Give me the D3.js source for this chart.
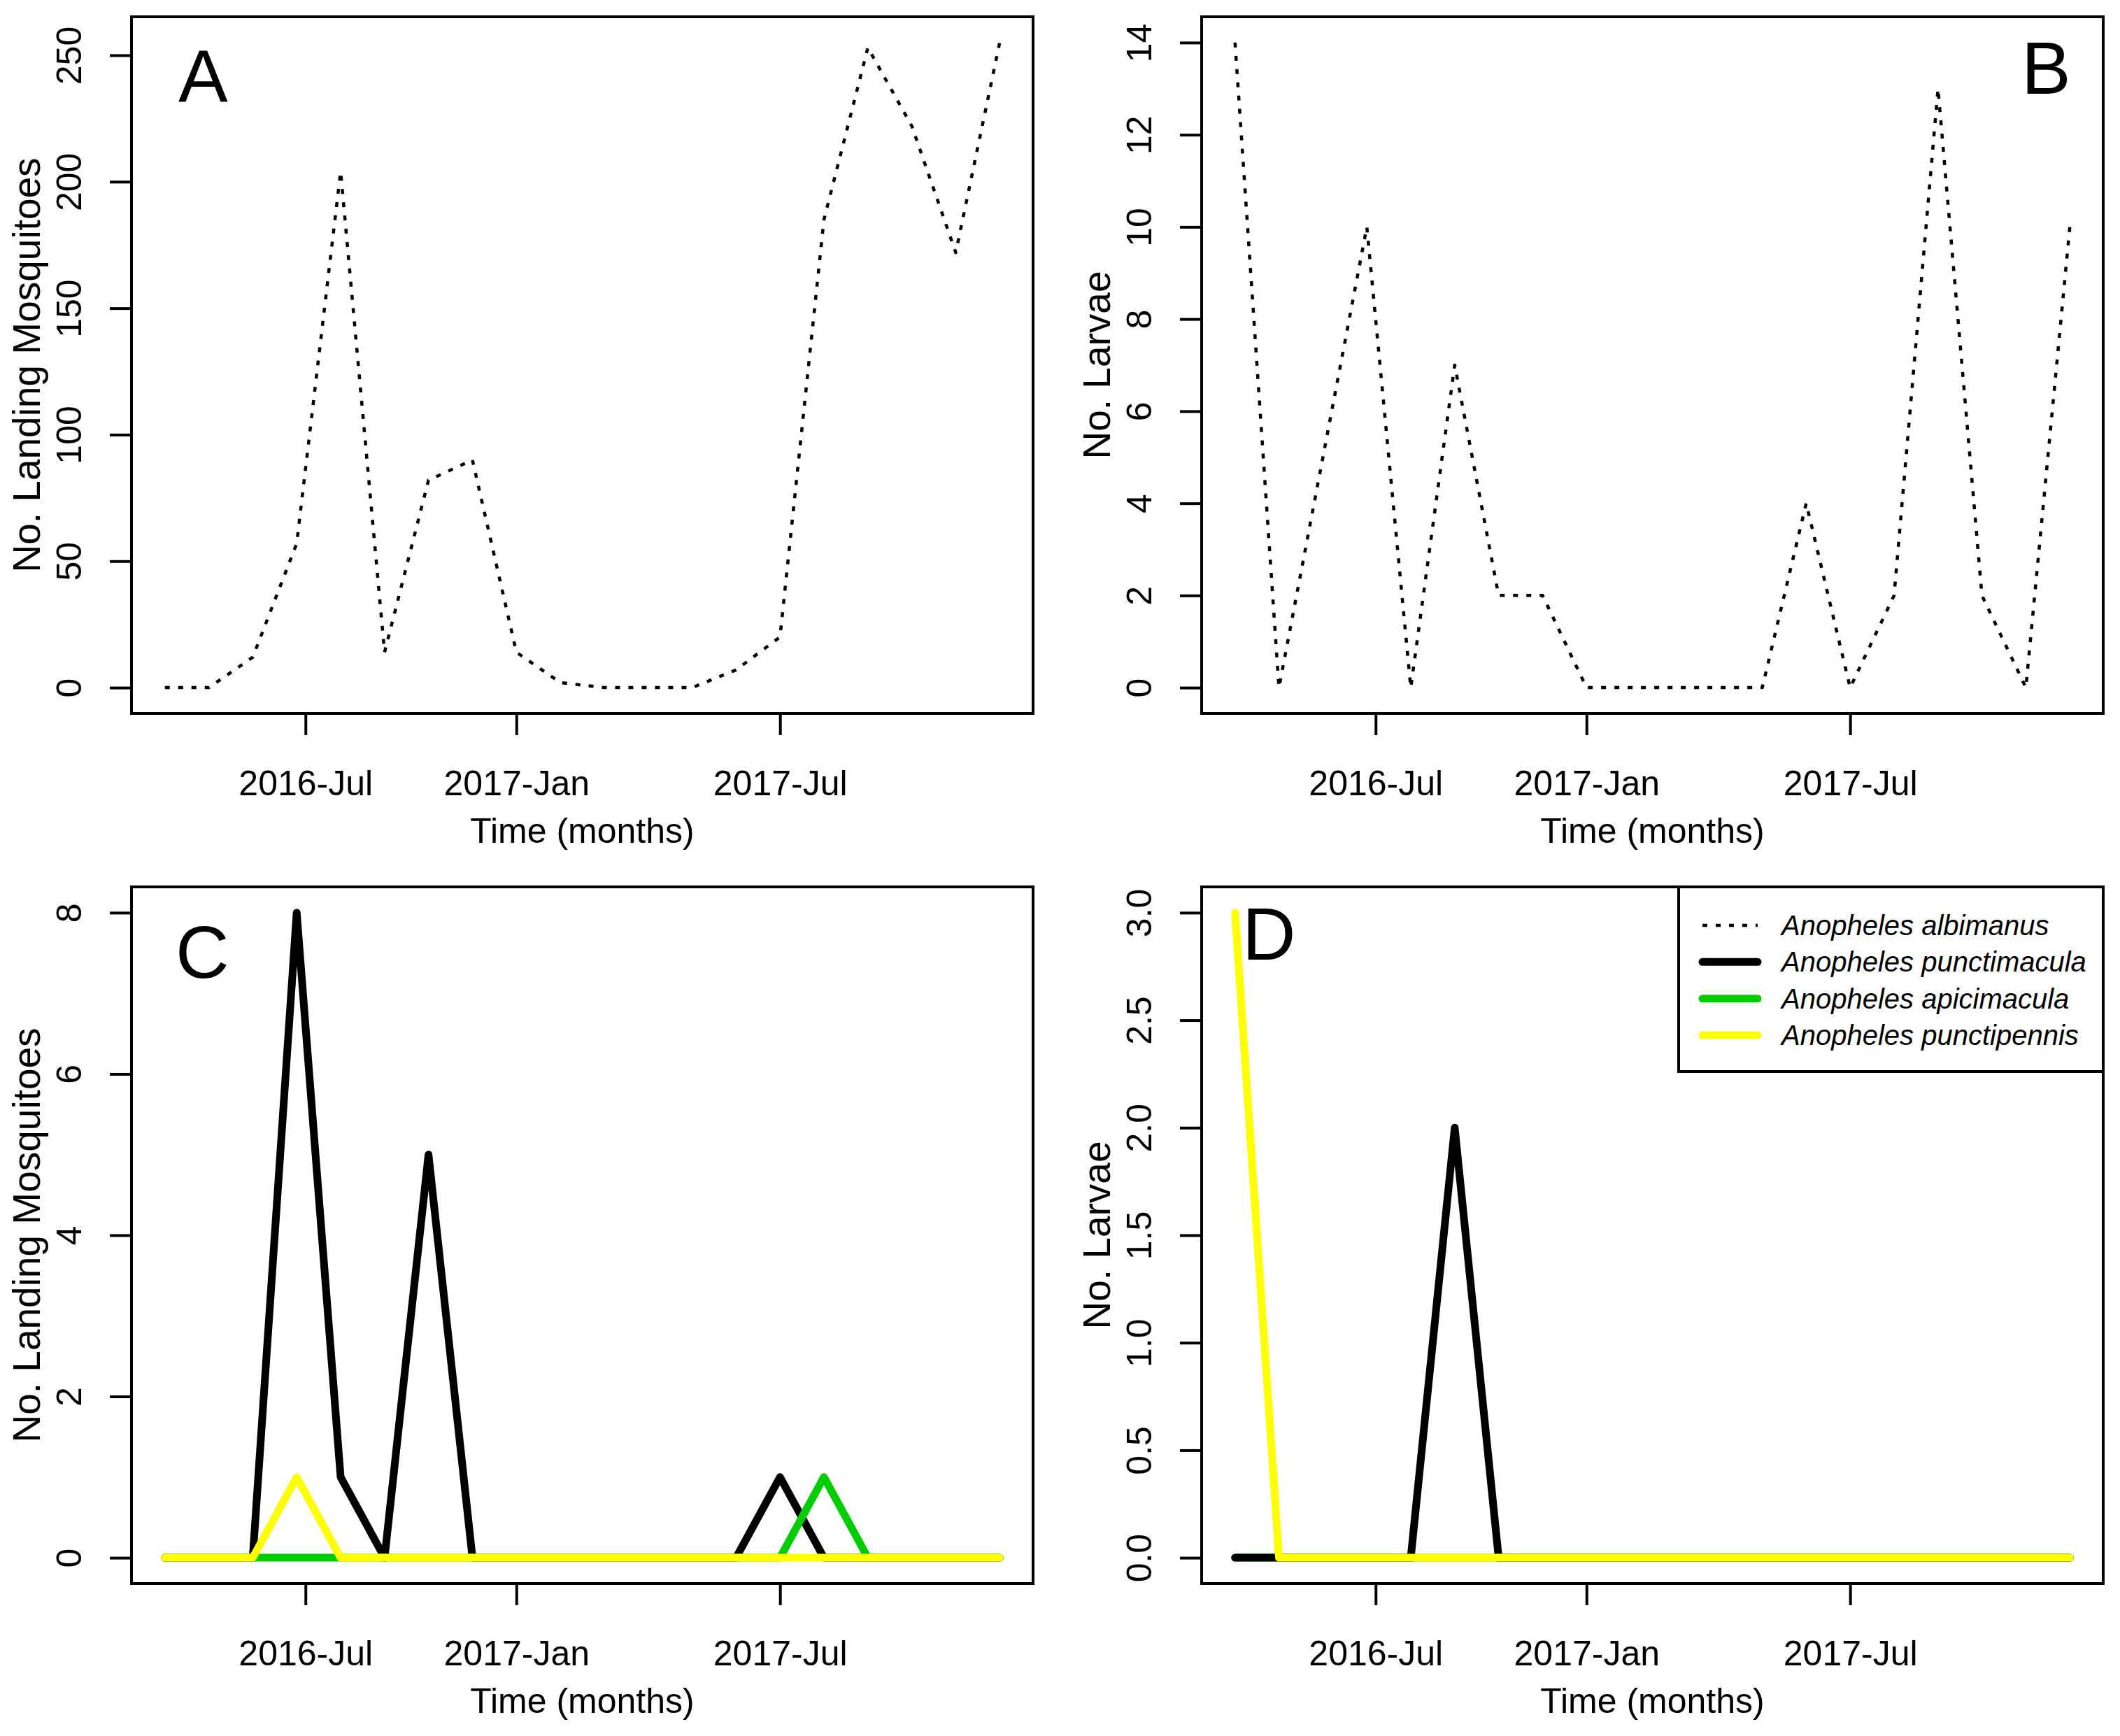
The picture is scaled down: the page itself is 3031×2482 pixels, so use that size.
<!DOCTYPE html>
<html>
<head>
<meta charset="utf-8">
<script src="https://cdn.jsdelivr.net/npm/d3@7"></script>
<style>
  body { margin: 0; background: #fff; }
  text { font-family: "Liberation Sans", Arial, sans-serif; fill: #000; }
</style>
</head>
<body>
<svg id="fig"></svg>
<script>
// sample number (monthly collections)
var sampleNo = [1,2,3,4,5,6,7,8,9,10,11,12,13,14,15,16,17,18,19,20];
var monthTicks = [4.2, 9, 15];
var monthLabels = ["2016-Jul", "2017-Jan", "2017-Jul"];

// A: landing An. albimanus, B: larvae An. albimanus
var albimanusLanding = [0,0,12,57,204,14,82,90,14,2,0,0,0,7,20,185,253,222,172,255];
var albimanusLarvae  = [14,0,5,10,0,7,2,2,0,0,0,0,0,4,0,2,13,2,0,10];

// C: landing, other species
var punctimaculaLanding = [0,0,0,8,1,0,5,0,0,0,0,0,0,0,1,0,0,0,0,0];
var apicimaculaLanding  = [0,0,0,0,0,0,0,0,0,0,0,0,0,0,0,1,0,0,0,0];
var punctipennisLanding = [0,0,0,1,0,0,0,0,0,0,0,0,0,0,0,0,0,0,0,0];

// D: larvae, other species
var punctimaculaLarvae = [0,0,0,0,0,2,0,0,0,0,0,0,0,0,0,0,0,0,0,0];
var apicimaculaLarvae  = [0,0,0,0,0,0,0,0,0,0,0,0,0,0,0,0,0,0,0,0];
var punctipennisLarvae = [3,0,0,0,0,0,0,0,0,0,0,0,0,0,0,0,0,0,0,0];

var speciesNames = ["Anopheles albimanus", "Anopheles punctimacula", "Anopheles apicimacula", "Anopheles punctipennis"];

var yTicksA = [0, 50, 100, 150, 200, 250];
var yTicksB = [0, 2, 4, 6, 8, 10, 12, 14];
var yTicksC = [0, 2, 4, 6, 8];
var yTicksD = [0, 0.5, 1, 1.5, 2, 2.5, 3];

var W = 3031, H = 2482;
var svg = d3.select("#fig").attr("width", W).attr("height", H);
svg.append("rect").attr("width", W).attr("height", H).attr("fill", "#fff");

// line styles per species
var styles = {
  albimanus:    {color: "#000000", width: 4.5, dash: "7 12", cap: "butt"},
  punctimacula: {color: "#000000", width: 11, dash: null, cap: "round"},
  apicimacula:  {color: "#00CD00", width: 11, dash: null, cap: "round"},
  punctipennis: {color: "#FFFF00", width: 11, dash: null, cap: "round"}
};

// R style axis range: 4% padding on each side
function rRange(lo, hi){
  var r = hi - lo;
  return [lo - 0.04 * r, hi + 0.04 * r];
}

function drawPanel(p){
  var g = svg.append("g");
  var w = p.right - p.left, h = p.bottom - p.top;

  var x = d3.scaleLinear()
      .domain(rRange(d3.min(sampleNo), d3.max(sampleNo)))
      .range([p.left, p.right]);

  var allY = [];
  p.series.forEach(function(s){ allY = allY.concat(s.values); });
  var y = d3.scaleLinear()
      .domain(rRange(0, d3.max(allY)))
      .range([p.bottom, p.top]);

  var line = d3.line()
      .x(function(d, i){ return x(sampleNo[i]); })
      .y(function(d){ return y(d); });

  // series
  p.series.forEach(function(s){
    var st = styles[s.key];
    g.append("path")
        .datum(s.values)
        .attr("d", line)
        .attr("fill", "none")
        .attr("stroke", st.color)
        .attr("stroke-width", st.width)
        .attr("stroke-linecap", st.cap)
        .attr("stroke-linejoin", "round")
        .attr("stroke-dasharray", st.dash);
  });

  // Y axis
  var yAx = g.append("g")
      .attr("transform", "translate(" + p.left + ",0)")
      .call(d3.axisLeft(y).tickValues(p.yTicks).tickFormat(p.yFmt).tickSize(31).tickSizeOuter(0));
  yAx.select(".domain").remove();
  yAx.selectAll(".tick line").attr("stroke", "#000").attr("stroke-width", 4);
  yAx.selectAll(".tick text")
      .attr("transform", "rotate(-90)")
      .attr("x", 0).attr("y", -72).attr("dy", null)
      .attr("text-anchor", "middle")
      .style("font-size", "50px")
      .style("font-family", "Liberation Sans, Arial, sans-serif");

  // X axis
  var xAx = g.append("g")
      .attr("transform", "translate(0," + p.bottom + ")")
      .call(d3.axisBottom(x).tickValues(monthTicks)
            .tickFormat(function(d, i){ return monthLabels[i]; })
            .tickSize(31).tickSizeOuter(0));
  xAx.select(".domain").remove();
  xAx.selectAll(".tick line").attr("stroke", "#000").attr("stroke-width", 4);
  xAx.selectAll(".tick text")
      .attr("y", 117).attr("dy", null)
      .style("font-size", "50px")
      .style("font-family", "Liberation Sans, Arial, sans-serif");

  // box
  g.append("rect")
      .attr("x", p.left).attr("y", p.top)
      .attr("width", w).attr("height", h)
      .attr("fill", "none").attr("stroke", "#000").attr("stroke-width", 4);

  // axis titles
  g.append("text")
      .attr("x", (p.left + p.right) / 2).attr("y", p.bottom + 185)
      .attr("text-anchor", "middle")
      .style("font-size", "50px")
      .text("Time (months)");

  g.append("text")
      .attr("transform", "translate(" + (p.left - 131) + "," + ((p.top + p.bottom) / 2) + ") rotate(-90)")
      .attr("text-anchor", "middle")
      .style("font-size", "55px")
      .text(p.yTitle);

  // panel letter
  g.append("text")
      .attr("x", p.letterX).attr("y", p.letterY)
      .style("font-size", "106px")
      .text(p.letter);

  return {x: x, y: y, g: g};
}

var intFmt = d3.format("d");
var decFmt = d3.format(".1f");

drawPanel({
  left: 188, right: 1477, top: 24, bottom: 1020,
  series: [{key: "albimanus", values: albimanusLanding}],
  yTicks: yTicksA, yFmt: intFmt, yTitle: "No. Landing Mosquitoes",
  letter: "A", letterX: 255, letterY: 145
});

drawPanel({
  left: 1718, right: 3007, top: 24, bottom: 1020,
  series: [{key: "albimanus", values: albimanusLarvae}],
  yTicks: yTicksB, yFmt: intFmt, yTitle: "No. Larvae",
  letter: "B", letterX: 2890, letterY: 134
});

drawPanel({
  left: 188, right: 1477, top: 1268, bottom: 2264,
  series: [
    {key: "punctimacula", values: punctimaculaLanding},
    {key: "apicimacula", values: apicimaculaLanding},
    {key: "punctipennis", values: punctipennisLanding}
  ],
  yTicks: yTicksC, yFmt: intFmt, yTitle: "No. Landing Mosquitoes",
  letter: "C", letterX: 251, letterY: 1398
});

// in D the (all-zero) apicimacula line sits under the others
drawPanel({
  left: 1718, right: 3007, top: 1268, bottom: 2264,
  series: [
    {key: "apicimacula", values: apicimaculaLarvae},
    {key: "punctimacula", values: punctimaculaLarvae},
    {key: "punctipennis", values: punctipennisLarvae}
  ],
  yTicks: yTicksD, yFmt: decFmt, yTitle: "No. Larvae",
  letter: "D", letterX: 1776, letterY: 1372
});

// legend (top right of panel D)
var leg = svg.append("g");
leg.append("rect")
    .attr("x", 2400).attr("y", 1268)
    .attr("width", 3007 - 2400).attr("height", 1532 - 1268)
    .attr("fill", "#fff").attr("stroke", "#000").attr("stroke-width", 4);

var legKeys = ["albimanus", "punctimacula", "apicimacula", "punctipennis"];
var rowY = d3.scaleLinear().domain([0, 3]).range([1323, 1480]);

legKeys.forEach(function(k, i){
  var st = styles[k];
  leg.append("line")
      .attr("x1", 2434).attr("x2", 2513)
      .attr("y1", rowY(i)).attr("y2", rowY(i))
      .attr("stroke", st.color)
      .attr("stroke-width", st.width)
      .attr("stroke-linecap", st.cap)
      .attr("stroke-dasharray", st.dash);
  leg.append("text")
      .attr("x", 2547).attr("y", rowY(i) + 14)
      .style("font-size", "40px")
      .style("font-style", "italic")
      .text(speciesNames[i]);
});
</script>
</body>
</html>
